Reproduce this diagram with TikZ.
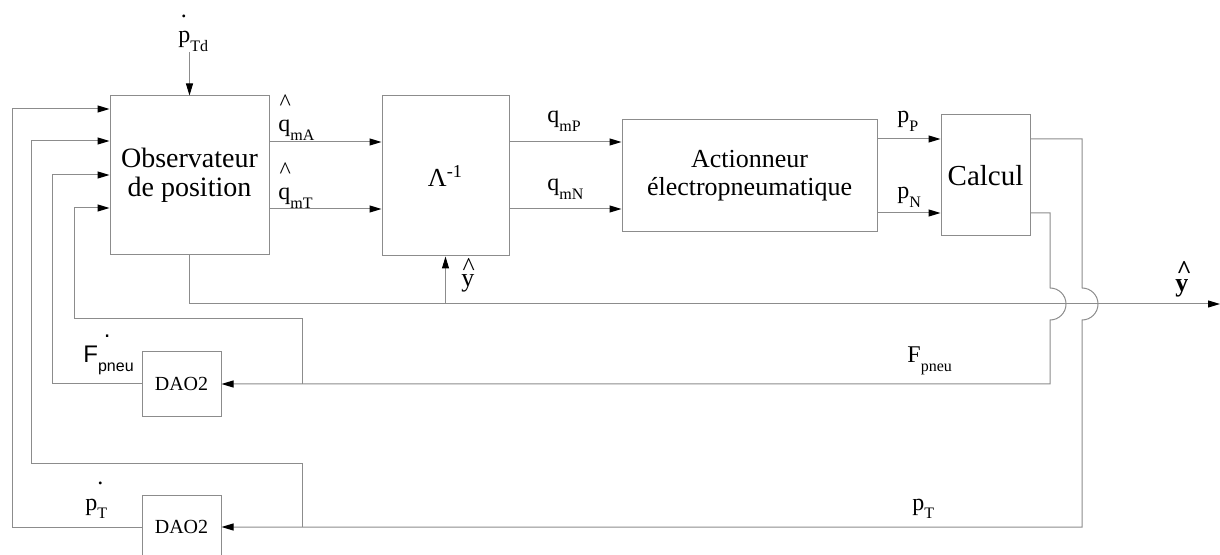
\documentclass[tikz,border=0pt]{standalone}
\usepackage{fontspec}
\setmainfont{Liberation Serif}
\setsansfont{Liberation Sans}
\usetikzlibrary{positioning, arrows.meta}

\newcommand{\sig}[2]{#1\raisebox{-0.35em}{\fontsize{8}{8}\selectfont #2}}
\newcommand{\capup}[2][0.9em]{\rlap{\raisebox{#1}{\kern0.05em\textasciicircum}}#2}
\newcommand{\dotup}[2][0.15em]{\rlap{\raisebox{1.05em}{\kern#1.}}#2}

\begin{document}
\begin{tikzpicture}[x=0.5pt, y=-0.5pt, font=\fontsize{12}{14}\selectfont]
    \tikzstyle{block} = [rectangle, draw=black!45, line width=0.5pt, inner sep=0pt, align=center, font=\fontsize{13}{14}\selectfont]
    \tikzstyle{wire} = [draw=black!45, line width=0.5pt]
    \tikzstyle{arrow} = [wire, -{Triangle[length=6pt, width=3.5pt, color=black]}]
    \tikzstyle{lbl} = [anchor=base west, inner sep=0pt]

    \useasboundingbox (0,0) rectangle (1220,555);

    % blocs
    \node [block, minimum width=79.5pt, minimum height=79.5pt, font=\fontsize{14}{14.5}\selectfont] (obs) at (189.5,175.5) {Observateur\\de position};
    \node [block, minimum width=63.5pt, minimum height=80pt] (lam) at (445.5,176) {Λ\textsuperscript{-1}};
    \node [block, minimum width=127.5pt, minimum height=56pt] (act) at (749.5,176) {Actionneur\\électropneumatique};
    \node [block, minimum width=44.5pt, minimum height=60.5pt, font=\fontsize{14.5}{16}\selectfont] (calc) at (985.5,175.5) {Calcul};
    \node [block, minimum width=39.5pt, minimum height=32pt, font=\fontsize{10}{12}\selectfont] (daoF) at (181.5,384) {DAO2};
    \node [block, minimum width=39.5pt, minimum height=32pt, font=\fontsize{10}{12}\selectfont] (daoP) at (181.5,527) {DAO2};

    % signaux
    \node [lbl] (ptd) at (178,43) {\dotup[0.1em]{\sig{p}{Td}}};
    \node [lbl] (qa) at (278,132) {\capup{\sig{q}{mA}}};
    \node [lbl] (qt) at (278,200) {\capup{\sig{q}{mT}}};
    \node [lbl] (qp) at (547,123) {\sig{q}{mP}};
    \node [lbl] (qn) at (547,191) {\sig{q}{mN}};
    \node [lbl] (pp) at (897,123) {\sig{p}{P}};
    \node [lbl] (pn) at (897,199) {\sig{p}{N}};
    \node [lbl, font=\fontsize{13}{14}\selectfont] (yl) at (461,287) {\capup[0.45em]{y}};
    \node [lbl, font=\bfseries\fontsize{13}{14}\selectfont] (yh) at (1175,292) {\capup[0.5em]{y}};
    \node [lbl] (fpn) at (907,363) {\sig{F}{pneu}};
    \node [lbl] (pt) at (912,510) {\sig{p}{T}};
    \node [lbl, font=\sffamily\fontsize{12}{14}\selectfont] (fdot) at (83,363) {\dotup[0.85em]{\sig{F}{pneu}}};
    \node [lbl] (ptdot) at (85,510) {\dotup[0.5em]{\sig{p}{T}}};

    \coordinate (yout) at (1220,304);
    \coordinate (tapF) at (302,384);
    \coordinate (tapP) at (302,527);

    % chaine directe
    \draw [arrow] (ptd.south -| obs.north) -- (obs.north);
    \draw [arrow] (obs.east |- 0,142) -- (lam.west |- 0,142);
    \draw [arrow] (obs.east |- 0,209) -- (lam.west |- 0,209);
    \draw [arrow] (lam.east |- 0,142) -- (act.west |- 0,142);
    \draw [arrow] (lam.east |- 0,209) -- (act.west |- 0,209);
    \draw [arrow] (act.east |- 0,139) -- (calc.west |- 0,139);
    \draw [arrow] (act.east |- 0,213) -- (calc.west |- 0,213);
    \draw [arrow] (obs.south) -- (obs.south |- yout) -- (yout);
    \draw [arrow] (lam.south |- yout) -- (lam.south);

    % retours
    \draw [arrow] (calc.east |- 0,213) -| (1050,288) arc[start angle=90, end angle=-90, radius=8pt] -- (daoF.east -| 1050,0) -- (daoF.east);
    \draw [arrow] (calc.east |- 0,139) -| (1082,288) arc[start angle=90, end angle=-90, radius=8pt] -- (daoP.east -| 1082,0) -- (daoP.east);
    \draw [arrow] (tapF) |- (74,319) |- (obs.west |- 0,208);
    \draw [arrow] (tapP) |- (31,463) |- (obs.west |- 0,141);
    \draw [arrow] (daoF.west) -| (52,175) -- (obs.west |- 0,175);
    \draw [arrow] (daoP.west) -| (12,109) -- (obs.west |- 0,109);
\end{tikzpicture}
\end{document}
